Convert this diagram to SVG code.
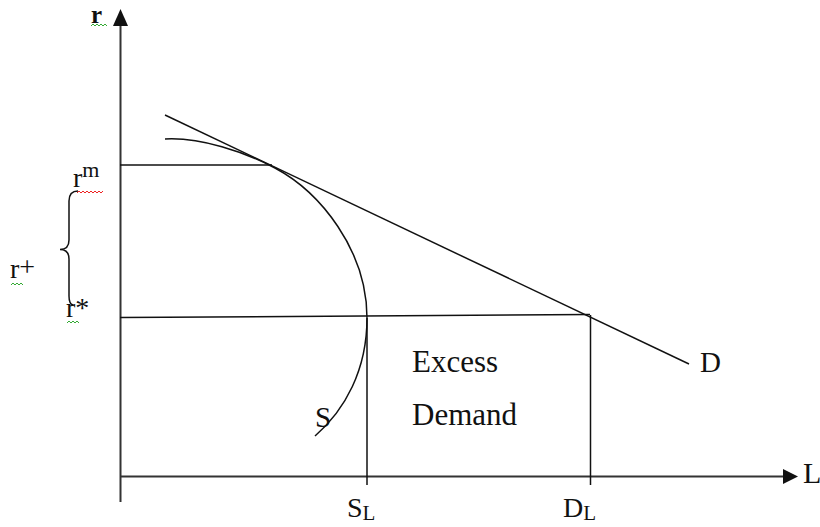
<svg xmlns="http://www.w3.org/2000/svg" width="820" height="527" viewBox="0 0 820 527">
<style>
.t{font-family:"Liberation Serif","Times New Roman",serif;fill:#111;}
.ax{stroke:#333;stroke-width:2;fill:none;}
.ln{stroke:#111;stroke-width:1.5;fill:none;}
.sq{fill:none;stroke-width:1;}
</style>
<rect width="820" height="527" fill="#fff"/>
<g id="connectors">
<path class="ax" d="M120.5,502 L120.5,25"/>
<path d="M113,26 L120.5,9 L128,26 z" fill="#111"/>
<path class="ax" d="M120,476.5 L783,476.5"/>
<path d="M783,469 L798,476.5 L783,484 z" fill="#111"/>
<path class="ln" d="M120,165 L272,165"/>
<path class="ln" d="M120,317.5 L590,314.5"/>
<path class="ln" d="M165,115 L689,364"/>
<path class="ln" d="M165,139 C200,137 245,152 275,168 C320,192 367,250 367,318 C367,370 345,410 315,436"/>
<path class="ln" d="M367,318 L367,485"/>
<path class="ln" d="M590.5,315 L590.5,485"/>
<path class="ln" d="M78,191 Q69,191 69,201 L69,240 Q69,249.5 60,249.5 Q69,249.5 69,259 L69,296 Q69,304 73,305"/>
</g>
<g id="labels">
<text class="t" x="91" y="23" font-size="25" font-weight="bold">r</text>
<text class="t" x="73" y="187" font-size="28">r<tspan font-size="22" dy="-10">m</tspan></text>
<text class="t" x="10" y="278" font-size="28">r<tspan dy="-2">+</tspan></text>
<text class="t" x="66" y="317" font-size="28">r*</text>
<text class="t" x="412" y="372" font-size="31">Excess</text>
<text class="t" x="412" y="425" font-size="31">Demand</text>
<text class="t" x="315" y="427" font-size="29">S</text>
<text class="t" x="700" y="372" font-size="29">D</text>
<text class="t" x="803" y="483" font-size="30">L</text>
<text class="t" x="347" y="517" font-size="28">S<tspan font-size="21" dy="3">L</tspan></text>
<text class="t" x="563" y="517" font-size="28">D<tspan font-size="21" dy="3">L</tspan></text>
</g>
<g id="squiggles">
<path class="sq" stroke="#3a3" d="M91,26 l2,-2 l2,2 l2,-2 l2,2 l2,-2 l2,2 l2,-2 l2,2"/>
<path class="sq" stroke="#e22" d="M77,193 l2,-2 l2,2 l2,-2 l2,2 l2,-2 l2,2 l2,-2 l2,2 l2,-2 l2,2 l2,-2 l2,2 l2,-2"/>
<path class="sq" stroke="#3a3" d="M11,285 l2,-2 l2,2 l2,-2 l2,2 l2,-2 l2,2"/>
<path class="sq" stroke="#3a3" d="M67,323 l2,-2 l2,2 l2,-2 l2,2 l2,-2 l2,2"/>
</g>
</svg>
